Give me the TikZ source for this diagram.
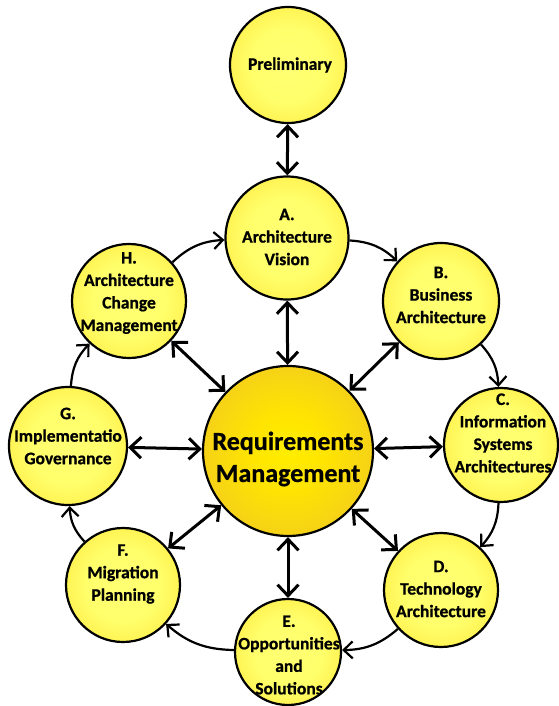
\documentclass[tikz,border=0pt]{standalone}
\usepackage{fontspec}
\setmainfont{Carlito}[BoldFeatures={FakeBold=0.8}]
\usetikzlibrary{arrows.meta}
\pgfdeclareradialshading{smallball}{\pgfpoint{0bp}{0bp}}{rgb(0bp)=(1,1,0.45); rgb(16bp)=(1,1,0.42); rgb(50bp)=(1,0.83,0.08); rgb(100bp)=(1,0.83,0.08)}
\pgfdeclareradialshading{bigball}{\pgfpoint{0bp}{0bp}}{rgb(0bp)=(1,0.93,0.0); rgb(10bp)=(1,0.9,0.0); rgb(50bp)=(0.9,0.7,0.24); rgb(100bp)=(0.9,0.7,0.24)}
\begin{document}
\begin{tikzpicture}[x=1pt,y=-1pt,
  phase/.style={circle,draw=black,line width=2.2pt,inner sep=0pt,shade,shading=smallball},
  core/.style={circle,draw=black,line width=2.2pt,inner sep=0pt,shade,shading=bigball,minimum size=170pt},
  txt/.style={align=center,font=\bfseries\fontsize{17.5}{22.5}\selectfont,inner sep=0pt},
  bigtxt/.style={align=center,font=\bfseries\fontsize{26}{32}\selectfont,inner sep=0pt},
  radial/.style={line width=3pt,{Straight Barb[length=11pt,width=21pt]}-{Straight Barb[length=11pt,width=21pt]}},
  ring/.style={line width=2.2pt,-{Straight Barb[length=9pt,width=17pt]}}]
\useasboundingbox (0,0) rectangle (558,706);
% circles
\node[phase,minimum size=116pt] (P) at (288,65) {};
\node[phase,minimum size=123pt] (A) at (287,238) {};
\node[phase,minimum size=116pt] (B) at (441,301) {};
\node[phase,minimum size=114pt] (C) at (501,445) {};
\node[phase,minimum size=114pt] (D) at (441,590) {};
\node[phase,minimum size=106pt] (E) at (288,652) {};
\node[phase,minimum size=114pt] (F) at (123,585) {};
\node[phase,minimum size=118pt] (G) at (68,446) {};
\node[phase,minimum size=114pt] (H) at (129,301) {};
\node[core] (R) at (288,451) {};
% texts
\node[txt] (tP) at (290,65) {Preliminary};
\node[txt] (tA) at (287,237) {A.\\Architecture\\Vision};
\node[txt] (tB) at (441,295) {B.\\Business\\Architecture};
\node[txt] (tC) at (503,433) {C.\\Information\\Systems\\Architectures};
\node[txt] (tD) at (441,589) {D.\\Technology\\Architecture};
\node[txt] (tE) at (289,655) {E.\\Opportunities\\and\\Solutions};
\node[txt] (tF) at (123,574) {F.\\Migration\\Planning};
\node[txt] (tG) at (68,436) {G.\\Implementatio\\Governance};
\node[txt] (tH) at (129,293) {H.\\Architecture\\Change\\Management};
\node[bigtxt] (tR) at (288,459) {Requirements\\Management};
% radial arrows
\draw[radial] (P) -- (A);
\draw[radial] (A) -- (R);
\draw[radial] (B) -- (R);
\draw[radial] (C) -- (R);
\draw[radial] (D) -- (R);
\draw[radial] (E) -- (R);
\draw[radial] (F) -- (R);
\draw[radial] (G) -- (R);
\draw[radial] (H) -- (R);
% ring arrows
\draw[ring] (A) to[bend left=20] (B);
\draw[ring] (B) to[bend left=20] (C);
\draw[ring] (C) to[bend left=20] (D);
\draw[ring] (D) to[bend left=20] (E);
\draw[ring] (E) to[bend left=20] (F);
\draw[ring] (F) to[bend left=20] (G);
\draw[ring] (G) to[bend left=20] (H);
\draw[ring] (H) to[bend left=20] (A);
\end{tikzpicture}
\end{document}
